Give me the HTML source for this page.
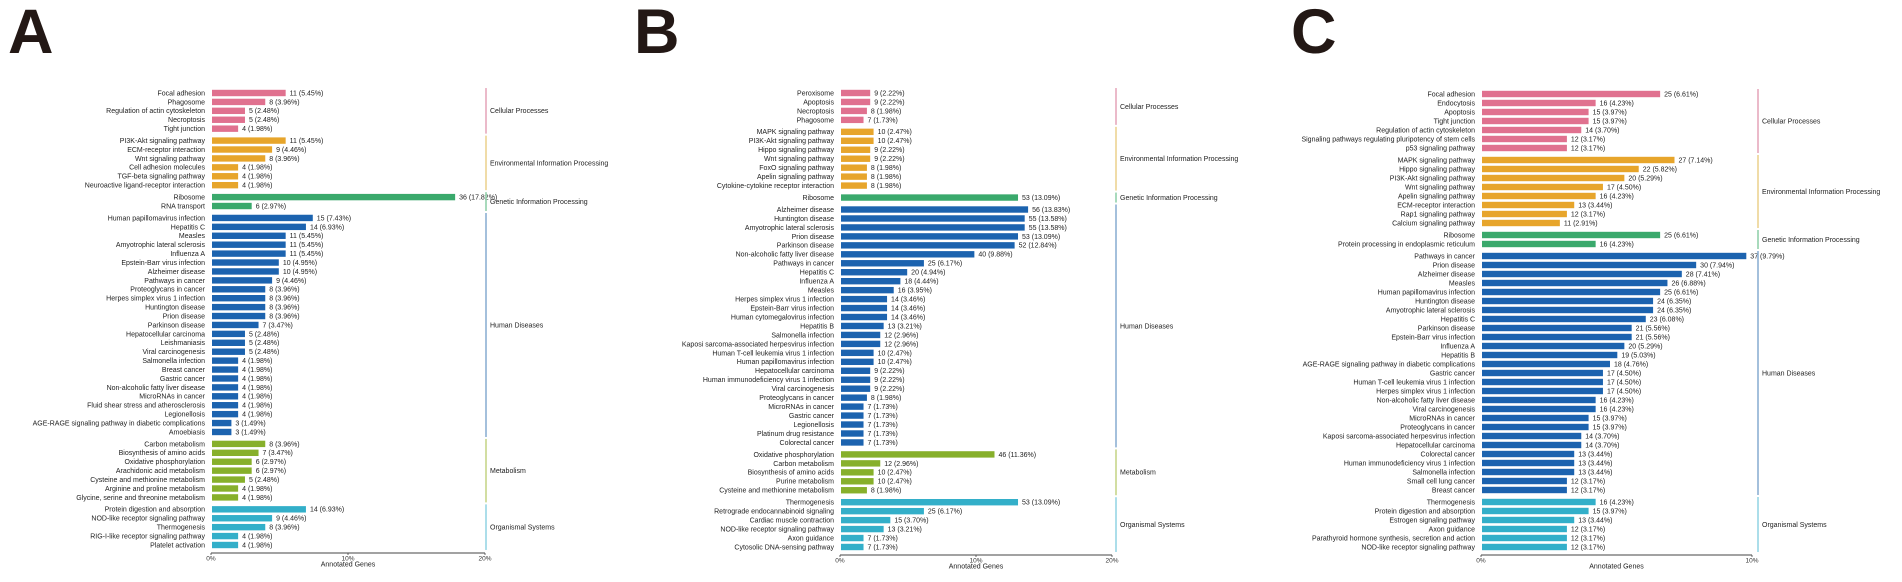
<!DOCTYPE html>
<html><head><meta charset="utf-8"><style>
html,body{margin:0;padding:0;background:#fff;}
svg{display:block;}
text{font-family:"Liberation Sans",sans-serif;}
</style></head><body>
<svg id="chart" width="1902" height="582" viewBox="0 0 1902 582" xmlns="http://www.w3.org/2000/svg"></svg>
<script>
const groupNames = ["Cellular Processes","Environmental Information Processing","Genetic Information Processing","Human Diseases","Metabolism","Organismal Systems"];
const barColors = ["#e0718f","#e7a52b","#3aa96c","#1c63af","#87b02b","#33afc9"];
const lineColors = ["#e6a9bd","#ecd493","#93d1ab","#8db0d3","#c7d58a","#98d5e4"];

const aNames = ["Focal adhesion","Phagosome","Regulation of actin cytoskeleton","Necroptosis","Tight junction","PI3K-Akt signaling pathway","ECM-receptor interaction","Wnt signaling pathway","Cell adhesion molecules","TGF-beta signaling pathway","Neuroactive ligand-receptor interaction","Ribosome","RNA transport","Human papillomavirus infection","Hepatitis C","Measles","Amyotrophic lateral sclerosis","Influenza A","Epstein-Barr virus infection","Alzheimer disease","Pathways in cancer","Proteoglycans in cancer","Herpes simplex virus 1 infection","Huntington disease","Prion disease","Parkinson disease","Hepatocellular carcinoma","Leishmaniasis","Viral carcinogenesis","Salmonella infection","Breast cancer","Gastric cancer","Non-alcoholic fatty liver disease","MicroRNAs in cancer","Fluid shear stress and atherosclerosis","Legionellosis","AGE-RAGE signaling pathway in diabetic complications","Amoebiasis","Carbon metabolism","Biosynthesis of amino acids","Oxidative phosphorylation","Arachidonic acid metabolism","Cysteine and methionine metabolism","Arginine and proline metabolism","Glycine, serine and threonine metabolism","Protein digestion and absorption","NOD-like receptor signaling pathway","Thermogenesis","RIG-I-like receptor signaling pathway","Platelet activation"];
const aCounts = [11,8,5,5,4,11,9,8,4,4,4,36,6,15,14,11,11,11,10,10,9,8,8,8,8,7,5,5,5,4,4,4,4,4,4,4,3,3,8,7,6,6,5,4,4,14,9,8,4,4];
const aPcts = [5.45,3.96,2.48,2.48,1.98,5.45,4.46,3.96,1.98,1.98,1.98,17.82,2.97,7.43,6.93,5.45,5.45,5.45,4.95,4.95,4.46,3.96,3.96,3.96,3.96,3.47,2.48,2.48,2.48,1.98,1.98,1.98,1.98,1.98,1.98,1.98,1.49,1.49,3.96,3.47,2.97,2.97,2.48,1.98,1.98,6.93,4.46,3.96,1.98,1.98];
const aGroups = [0,0,0,0,0,1,1,1,1,1,1,2,2,3,3,3,3,3,3,3,3,3,3,3,3,3,3,3,3,3,3,3,3,3,3,3,3,3,4,4,4,4,4,4,4,5,5,5,5,5];

const bNames = ["Peroxisome","Apoptosis","Necroptosis","Phagosome","MAPK signaling pathway","PI3K-Akt signaling pathway","Hippo signaling pathway","Wnt signaling pathway","FoxO signaling pathway","Apelin signaling pathway","Cytokine-cytokine receptor interaction","Ribosome","Alzheimer disease","Huntington disease","Amyotrophic lateral sclerosis","Prion disease","Parkinson disease","Non-alcoholic fatty liver disease","Pathways in cancer","Hepatitis C","Influenza A","Measles","Herpes simplex virus 1 infection","Epstein-Barr virus infection","Human cytomegalovirus infection","Hepatitis B","Salmonella infection","Kaposi sarcoma-associated herpesvirus infection","Human T-cell leukemia virus 1 infection","Human papillomavirus infection","Hepatocellular carcinoma","Human immunodeficiency virus 1 infection","Viral carcinogenesis","Proteoglycans in cancer","MicroRNAs in cancer","Gastric cancer","Legionellosis","Platinum drug resistance","Colorectal cancer","Oxidative phosphorylation","Carbon metabolism","Biosynthesis of amino acids","Purine metabolism","Cysteine and methionine metabolism","Thermogenesis","Retrograde endocannabinoid signaling","Cardiac muscle contraction","NOD-like receptor signaling pathway","Axon guidance","Cytosolic DNA-sensing pathway"];
const bCounts = [9,9,8,7,10,10,9,9,8,8,8,53,56,55,55,53,52,40,25,20,18,16,14,14,14,13,12,12,10,10,9,9,9,8,7,7,7,7,7,46,12,10,10,8,53,25,15,13,7,7];
const bPcts = [2.22,2.22,1.98,1.73,2.47,2.47,2.22,2.22,1.98,1.98,1.98,13.09,13.83,13.58,13.58,13.09,12.84,9.88,6.17,4.94,4.44,3.95,3.46,3.46,3.46,3.21,2.96,2.96,2.47,2.47,2.22,2.22,2.22,1.98,1.73,1.73,1.73,1.73,1.73,11.36,2.96,2.47,2.47,1.98,13.09,6.17,3.70,3.21,1.73,1.73];
const bGroups = [0,0,0,0,1,1,1,1,1,1,1,2,3,3,3,3,3,3,3,3,3,3,3,3,3,3,3,3,3,3,3,3,3,3,3,3,3,3,3,4,4,4,4,4,5,5,5,5,5,5];

const cNames = ["Focal adhesion","Endocytosis","Apoptosis","Tight junction","Regulation of actin cytoskeleton","Signaling pathways regulating pluripotency of stem cells","p53 signaling pathway","MAPK signaling pathway","Hippo signaling pathway","PI3K-Akt signaling pathway","Wnt signaling pathway","Apelin signaling pathway","ECM-receptor interaction","Rap1 signaling pathway","Calcium signaling pathway","Ribosome","Protein processing in endoplasmic reticulum","Pathways in cancer","Prion disease","Alzheimer disease","Measles","Human papillomavirus infection","Huntington disease","Amyotrophic lateral sclerosis","Hepatitis C","Parkinson disease","Epstein-Barr virus infection","Influenza A","Hepatitis B","AGE-RAGE signaling pathway in diabetic complications","Gastric cancer","Human T-cell leukemia virus 1 infection","Herpes simplex virus 1 infection","Non-alcoholic fatty liver disease","Viral carcinogenesis","MicroRNAs in cancer","Proteoglycans in cancer","Kaposi sarcoma-associated herpesvirus infection","Hepatocellular carcinoma","Colorectal cancer","Human immunodeficiency virus 1 infection","Salmonella infection","Small cell lung cancer","Breast cancer","Thermogenesis","Protein digestion and absorption","Estrogen signaling pathway","Axon guidance","Parathyroid hormone synthesis, secretion and action","NOD-like receptor signaling pathway"];
const cCounts = [25,16,15,15,14,12,12,27,22,20,17,16,13,12,11,25,16,37,30,28,26,25,24,24,23,21,21,20,19,18,17,17,17,16,16,15,15,14,14,13,13,13,12,12,16,15,13,12,12,12];
const cPcts = [6.61,4.23,3.97,3.97,3.70,3.17,3.17,7.14,5.82,5.29,4.50,4.23,3.44,3.17,2.91,6.61,4.23,9.79,7.94,7.41,6.88,6.61,6.35,6.35,6.08,5.56,5.56,5.29,5.03,4.76,4.50,4.50,4.50,4.23,4.23,3.97,3.97,3.70,3.70,3.44,3.44,3.44,3.17,3.17,4.23,3.97,3.44,3.17,3.17,3.17];
const cGroups = [0,0,0,0,0,0,0,1,1,1,1,1,1,1,1,2,2,3,3,3,3,3,3,3,3,3,3,3,3,3,3,3,3,3,3,3,3,3,3,3,3,3,3,3,5,5,5,5,5,5];

const aTicks = ["0%","10%","20%"];
const bTicks = ["0%","10%","20%"];
const cTicks = ["0%","10%"];
const aTickVals = [0,10,20];
const bTickVals = [0,10,20];
const cTickVals = [0,10];

const NS = "http://www.w3.org/2000/svg";
const svg = document.getElementById("chart");
function mk(tag, attrs, parent){
  const e = document.createElementNS(NS, tag);
  for (const k in attrs) e.setAttribute(k, attrs[k]);
  parent.appendChild(e);
  return e;
}

function panel(cfg){
  const g = mk("g", {}, svg);
  
  
  const letter = mk("text", {x: cfg.lx, y: 53, "font-size": 63, "font-weight": "bold", fill: "#231815"}, g);
  letter.textContent = cfg.id.toUpperCase();
  
  

  const n = cfg.names.length;
  let gaps = 0;
  for (let i = 1; i < n; i++) if (cfg.groups[i] !== cfg.groups[i-1]) gaps++;
  const gap = 3;
  const step = (cfg.yLast - cfg.yFirst - gaps*gap) / (n - 1);
  const xs = v => cfg.x0 + (v / cfg.max) * (cfg.x1 - cfg.x0);
  const ys = [];
  let gi = 0;
  for (let i = 0; i < n; i++){
    if (i > 0 && cfg.groups[i] !== cfg.groups[i-1]) gi++;
    ys.push(cfg.yFirst + i*step + gi*gap);
  }
  const bh = 6.4;
  for (let i = 0; i < n; i++){
    const y = ys[i];
    const grp = cfg.groups[i];
    const lab = mk("text", {x: cfg.x0 - 6, y: y + 2.4, "font-size": 7, "text-anchor": "end", fill: "#222"}, g);
    lab.textContent = cfg.names[i];
    
    
    const r = mk("rect", {x: cfg.x0 + 1, y: y - bh/2, width: Math.max(0, xs(cfg.pcts[i]) - cfg.x0 - 1), height: bh, fill: barColors[grp]}, g);
    
    
    const vl = mk("text", {x: xs(cfg.pcts[i]) + 4, y: y + 2.4, "font-size": 7, fill: "#222"}, g);
    vl.textContent = cfg.counts[i] + " (" + cfg.pcts[i].toFixed(2) + "%)";
    
    
  }
  // group brackets
  let start = 0;
  for (let i = 1; i <= n; i++){
    if (i === n || cfg.groups[i] !== cfg.groups[start]){
      const grp = cfg.groups[start];
      const top = ys[start] - step/2 - 0.5, bot = ys[i-1] + step/2 + 0.5;
      const ln = mk("line", {x1: cfg.cx, x2: cfg.cx, y1: top, y2: bot, stroke: lineColors[grp], "stroke-width": 1.6}, g);
      
      
      const t = mk("text", {x: cfg.cx + 4, y: (top + bot)/2 + 2.4, "font-size": 7, fill: "#222"}, g);
      t.textContent = groupNames[grp];
      
      
      start = i;
    }
  }
  // axis
  const ay = cfg.axisY;
  const ax = mk("line", {x1: cfg.x0, x2: cfg.x1, y1: ay, y2: ay, stroke: "#444", "stroke-width": 1}, g);
  
  
  for (let k = 0; k < cfg.ticks.length; k++){
    const tx = xs(cfg.tickVals[k]);
    mk("line", {x1: tx, x2: tx, y1: ay, y2: ay + 2, stroke: "#444", "stroke-width": 0.8}, g);
    const tl = mk("text", {x: tx, y: ay + 7.5, "font-size": 6.5, "text-anchor": "middle", fill: "#333"}, g);
    tl.textContent = cfg.ticks[k];
    
    
  }
  const at = mk("text", {x: (cfg.x0 + xs(cfg.tickVals[cfg.tickVals.length-1]))/2, y: ay + 13.5, "font-size": 7, "text-anchor": "middle", fill: "#222"}, g);
  at.textContent = "Annotated Genes";
  
  
}

panel({id:"a", lx:8, names:aNames, counts:aCounts, pcts:aPcts, groups:aGroups, ticks:aTicks, tickVals:aTickVals, max:20, x0:211, x1:485, cx:486, yFirst:93, yLast:545, axisY:553});
panel({id:"b", lx:634, names:bNames, counts:bCounts, pcts:bPcts, groups:bGroups, ticks:bTicks, tickVals:bTickVals, max:20, x0:840, x1:1112, cx:1116, yFirst:93, yLast:547, axisY:555});
panel({id:"c", lx:1291, names:cNames, counts:cCounts, pcts:cPcts, groups:cGroups, ticks:cTicks, tickVals:cTickVals, max:10, x0:1481, x1:1752, cx:1758, yFirst:94, yLast:547, axisY:555});
</script>
</body></html>
